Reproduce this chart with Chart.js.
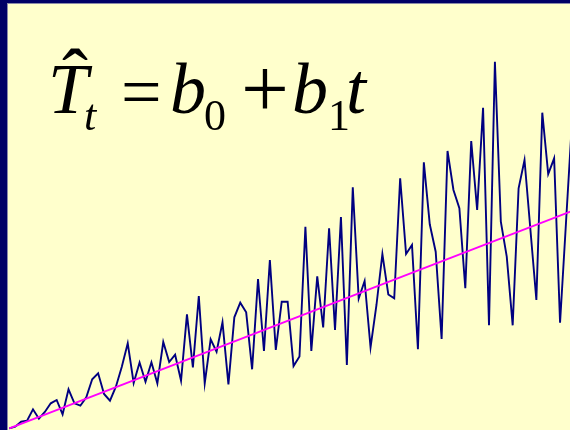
<!DOCTYPE html>
<html>
<head>
<meta charset="utf-8">
<script src="https://cdn.jsdelivr.net/npm/chart.js@4/dist/chart.umd.min.js"></script>
<style>
  html, body { margin: 0; padding: 0; }
  body { width: 570px; height: 430px; overflow: hidden; position: relative; background: #FFFFCC; }
  #wrap { position: absolute; left: 0; top: 0; width: 570px; height: 430px; }
  .bord { position: absolute; z-index: 3; }
  .f { position: absolute; line-height: 0; white-space: nowrap; color: #000; z-index: 4;
       font-family: "Liberation Serif", "Times New Roman", serif; }
  .it { font-style: italic; }
</style>
</head>
<body>
<div id="wrap"><canvas id="c" width="570" height="430"></canvas></div>

<div class="bord" style="left:0;top:0;width:7px;height:430px;background:#000066"></div>
<div class="bord" style="left:7px;top:3px;width:1px;height:427px;background:#8A8AA8"></div>
<div class="bord" style="left:0;top:0;width:570px;height:3px;background:#000066"></div>
<div class="bord" style="left:7px;top:3px;width:563px;height:1px;background:#8A8AA8"></div>

<!-- formula  T̂_t = b_0 + b_1 t  -->
<div class="f it" style="left:48px;top:89px;font-size:72px">T</div>
<div class="f" style="left:62px;top:77px;font-size:78px">ˆ</div>
<div class="f it" style="left:84px;top:116px;font-size:44px">t</div>
<div class="f" style="left:121px;top:92px;font-size:72px">=</div>
<div class="f it" style="left:170px;top:89px;font-size:72px">b</div>
<div class="f" style="left:204px;top:116px;font-size:44px">0</div>
<div class="f" style="left:241px;top:88px;font-size:85px">+</div>
<div class="f it" style="left:292px;top:89px;font-size:72px">b</div>
<div class="f" style="left:328px;top:116px;font-size:44px">1</div>
<div class="f it" style="left:346px;top:89px;font-size:72px">t</div>

<script>
// Observed series (height above the bottom edge), one value per period t = 0..95
const periods = [];
const observed = [
  1.7, 3.3, 8.3, 9.3, 20.7, 11.3, 18, 26.7, 30, 15.7,
  40.7, 26.7, 24.3, 32.7, 50.7, 56.7, 36, 29.3, 43.3, 63.3,
  86.7, 47, 67.5, 48.3, 67.7, 46.7, 88, 68, 75.3, 49.3,
  115.7, 62.7, 134, 46.7, 90.7, 78.3, 107.7, 45.7, 112.7, 127.3,
  117.7, 60.7, 151, 79, 170, 80, 128.3, 128.3, 64, 73.5,
  203.3, 79, 153.7, 102.5, 201.7, 100, 213, 65, 242.7, 131.5,
  149, 82.7, 125, 176, 135.5, 131.7, 251.7, 176, 185, 80.7,
  267.7, 205.7, 178.3, 91, 279, 240, 221.7, 141.7, 289, 220,
  322.3, 104.7, 368.3, 208.3, 173.3, 104.7, 241.7, 270, 200, 130,
  317.3, 256, 271.7, 107.3, 207, 307
];
for (let i = 0; i < observed.length; i++) periods.push(i);

// Fitted linear trend T̂t = b0 + b1 t, read at its two ends
const trendPeriods = [0, 95];
const trendValues = [1.6, 219.0];

// Axis window (periods and values)
const xRange = [-1.57, 94.68];
const yRange = [0, 430];

const chart = new Chart(document.getElementById('c'), {
  type: 'line',
  data: {
    datasets: [
      {
        label: 'Trend',
        data: trendPeriods.map((t, i) => ({ x: t, y: trendValues[i] })),
        borderColor: '#FF00FF',
        borderWidth: 2,
        pointRadius: 0,
        tension: 0
      },
      {
        label: 'Series',
        data: periods.map((t, i) => ({ x: t, y: observed[i] })),
        borderColor: '#000080',
        borderWidth: 1.9,
        pointRadius: 0,
        tension: 0
      }
    ]
  },
  options: {
    responsive: false,
    animation: false,
    layout: { padding: 0 },
    plugins: { legend: { display: false }, tooltip: { enabled: false } },
    scales: {
      x: { type: 'linear', min: xRange[0], max: xRange[1], display: false },
      y: { type: 'linear', min: yRange[0], max: yRange[1], display: false }
    }
  }
});
</script>
</body>
</html>
